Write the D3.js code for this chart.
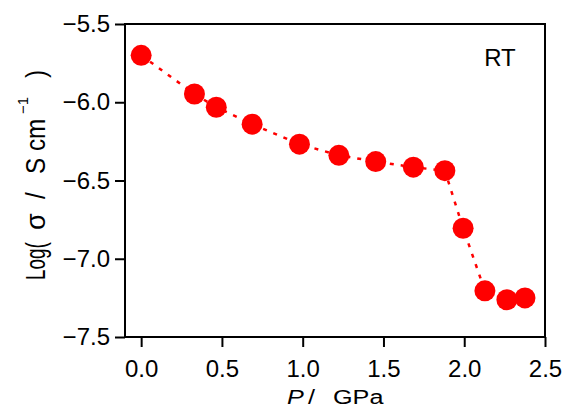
<!DOCTYPE html>
<html>
<head>
<meta charset="utf-8">
<script src="https://cdn.jsdelivr.net/npm/d3@7"></script>
<style>
  body { margin: 0; background: #fff; }
  text { font-family: "Liberation Sans", Arial, sans-serif; fill: #000; }
</style>
</head>
<body>
<div id="chart"></div>
<script>
// data
const pressure = [0.0, 0.33, 0.465, 0.687, 0.98, 1.224, 1.452, 1.685, 1.88, 1.993, 2.128, 2.264, 2.376];
const logSigma = [-5.70, -5.947, -6.032, -6.14, -6.268, -6.339, -6.379, -6.415, -6.437, -6.805, -7.205, -7.262, -7.25];
const xTicks = [0, 0.5, 1.0, 1.5, 2.0, 2.5];
const yTicks = [-7.5, -7.0, -6.5, -6.0, -5.5];

const W = 564, H = 410;
const svg = d3.select("#chart").append("svg")
    .attr("width", W)
    .attr("height", H);

// scales (pixel box of the axes frame)
const x = d3.scaleLinear().domain([-0.1, 2.5]).range([125, 545]);
const y = d3.scaleLinear().domain([-7.5, -5.5]).range([337, 24]);

const data = pressure.map((p, i) => ({ p: p, s: logSigma[i] }));

// dashed connecting line
const line = d3.line().x(d => x(d.p)).y(d => y(d.s));
svg.append("path")
    .datum(data)
    .attr("d", line)
    .attr("fill", "none")
    .attr("stroke", "#ff0000")
    .attr("stroke-width", 2.5)
    .attr("stroke-dasharray", "4,7");

// points
svg.selectAll("circle")
    .data(data)
    .enter()
    .append("circle")
    .attr("cx", d => x(d.p))
    .attr("cy", d => y(d.s))
    .attr("r", 10.5)
    .attr("fill", "#ff0000");

// frame
svg.append("rect")
    .attr("x", 125)
    .attr("y", 24)
    .attr("width", 420)
    .attr("height", 313)
    .attr("fill", "none")
    .attr("stroke", "#000")
    .attr("stroke-width", 2);

// axes
const xAxis = svg.append("g")
    .attr("transform", "translate(0,337)")
    .call(d3.axisBottom(x).tickValues(xTicks).tickFormat(d3.format(".1f"))
        .tickSize(10).tickSizeOuter(0).tickPadding(13));
const yAxis = svg.append("g")
    .attr("transform", "translate(125,0)")
    .call(d3.axisLeft(y).tickValues(yTicks).tickFormat(d3.format(".1f"))
        .tickSize(10).tickSizeOuter(0).tickPadding(5));

[xAxis, yAxis].forEach(g => {
    g.select(".domain").remove();
    g.selectAll(".tick line").attr("stroke", "#000").attr("stroke-width", 2);
    g.selectAll(".tick text")
        .attr("fill", "#000")
        .style("font-family", "'Liberation Sans', Arial, sans-serif")
        .style("font-size", "24px");
});

// x label: pieces placed along the bottom, slightly wide glyphs
const xLabel = [
    { t: "P", at: 287, italic: true },
    { t: "/", at: 308, italic: false },
    { t: "GPa", at: 333, italic: false }
];
xLabel.forEach(d => {
    svg.append("text")
        .attr("transform", `translate(${d.at},404) scale(1.2,1)`)
        .style("font-size", "21px")
        .style("font-style", d.italic ? "italic" : "normal")
        .text(d.t);
});

// y label: rotated pieces, placed bottom to top
const yLabel = [
    { t: "Log(", at: 280, size: 27, shift: 0, sx: 0.7 },
    { t: "σ", at: 230, size: 27, shift: 0, sx: 1 },
    { t: "/", at: 199, size: 27, shift: 0, sx: 0.9 },
    { t: "S cm", at: 174, size: 27, shift: 0, sx: 0.9 },
    { t: "−1", at: 114, size: 15, shift: -17, sx: 1 },
    { t: ")", at: 78, size: 27, shift: 0, sx: 0.9 }
];
yLabel.forEach(d => {
    svg.append("text")
        .attr("transform", `translate(${45 + d.shift},${d.at}) rotate(-90) scale(${d.sx},1)`)
        .style("font-size", d.size + "px")
        .text(d.t);
});

// RT annotation
svg.append("text")
    .attr("x", 500)
    .attr("y", 66)
    .attr("text-anchor", "middle")
    .style("font-size", "24px")
    .text("RT");
</script>
</body>
</html>
